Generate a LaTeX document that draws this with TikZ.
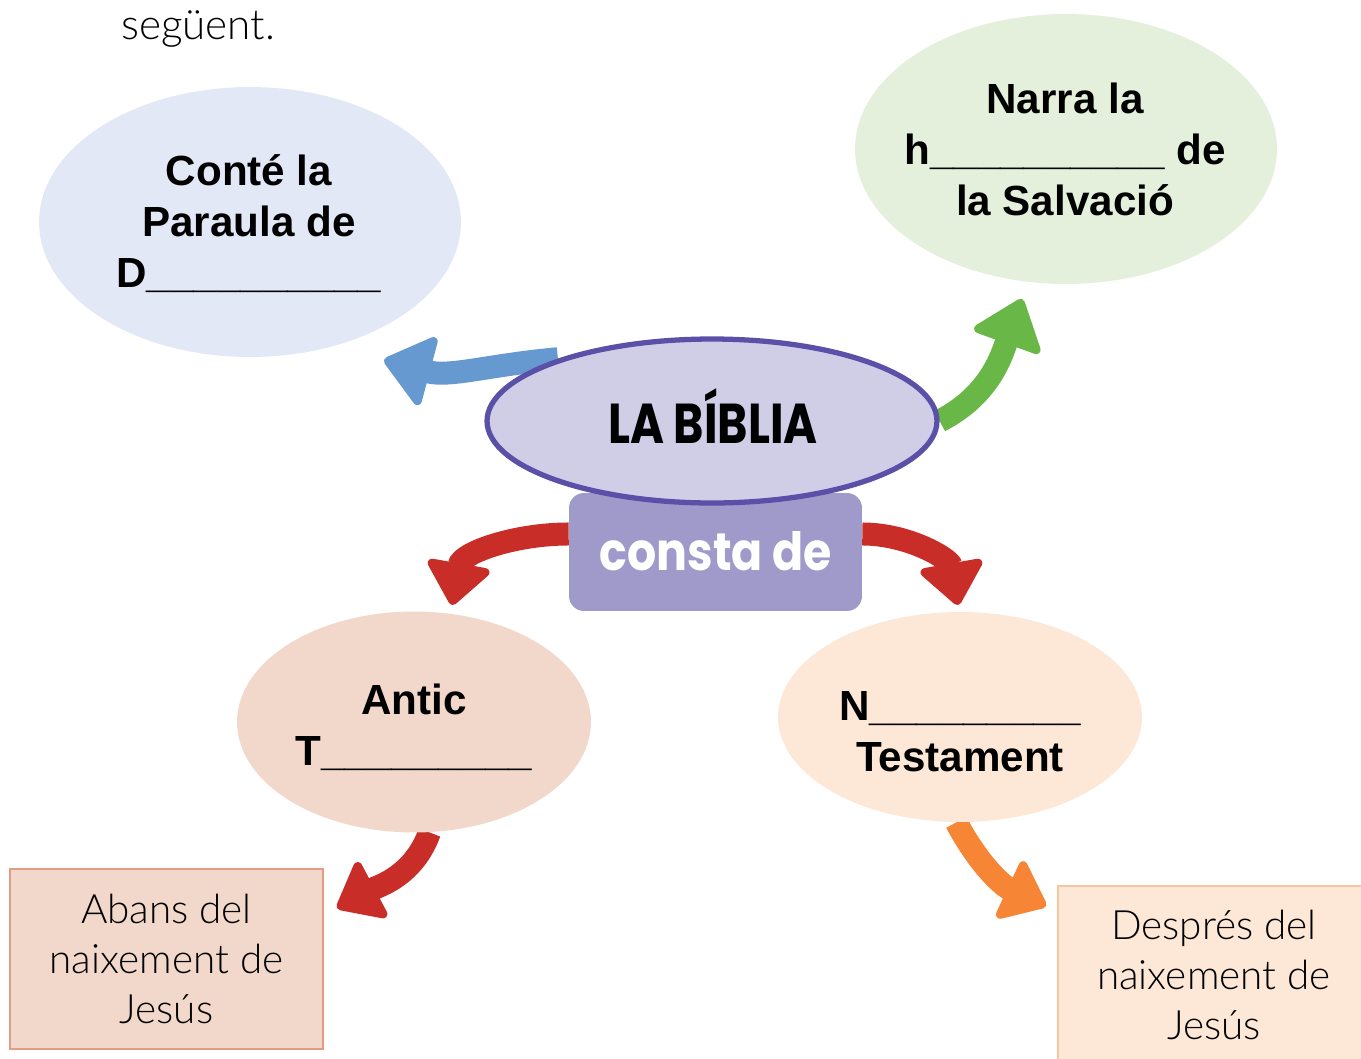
\documentclass[tikz,border=0pt]{standalone}
\usepackage{fontspec}
\usepackage{graphicx}
\setmainfont{Liberation Sans}
\newfontfamily\roundfont{Poppins}
\newfontfamily\lightfont{Lato Light}
\usetikzlibrary{shapes.geometric,arrows.meta,positioning}

\definecolor{conteFill}{HTML}{E3E8F6}
\definecolor{narraFill}{HTML}{E4F0DC}
\definecolor{bibliaFill}{HTML}{D0CEE7}
\definecolor{bibliaLine}{HTML}{5A50A8}
\definecolor{constaFill}{HTML}{A09ACB}
\definecolor{anticFill}{HTML}{F2D8CA}
\definecolor{anticLine}{HTML}{E39C84}
\definecolor{nouFill}{HTML}{FDE7D7}
\definecolor{nouLine}{HTML}{F7C59F}
\definecolor{redArrow}{HTML}{C82D28}
\definecolor{blueArrow}{HTML}{6699CF}
\definecolor{greenArrow}{HTML}{69B746}
\definecolor{orangeArrow}{HTML}{F68635}

\pgfdeclarelayer{arrowlayer}
\pgfsetlayers{arrowlayer,main}

\begin{document}
\begin{tikzpicture}[x=0.02cm, y=0.02cm,
    bubble/.style={ellipse, inner sep=0pt},
    bubbletext/.style={font=\bfseries\fontsize{24}{29}\selectfont, align=center},
    notebox/.style={rectangle, line width=1pt, minimum width=6.26cm, font=\lightfont\fontsize{23}{28.5}\selectfont, align=center},
    bigarrow/.style={line width=0.46cm, -{Triangle[length=1cm, width=1.55cm, round, line width=5pt]}},
    midarrow/.style={line width=0.46cm, -{Triangle[length=0.9cm, width=1.4cm, round, line width=5pt]}}]
  \useasboundingbox (0,0) rectangle (1361,-1058);

  \node[anchor=base west, font=\lightfont\fontsize{24}{28}\selectfont] (seguent) at (115,-39) {següent.};

  \node[bubble, fill=conteFill, minimum width=8.44cm, minimum height=5.4cm] (conte) at (250,-222) {};
  \node[bubbletext] (contetext) at (249,-224) {Conté la\\Paraula de\\D\_\_\_\_\_\_\_\_\_\_};

  \node[bubble, fill=narraFill, minimum width=8.44cm, minimum height=5.4cm] (narra) at (1066,-149) {};
  \node[bubbletext] (narratext) at (1065,-149) {Narra la\\h\_\_\_\_\_\_\_\_\_\_ de\\la Salvació};

  \node[rectangle, rounded corners=0.3cm, fill=constaFill, inner sep=0pt, minimum width=5.86cm, minimum height=2.36cm] (consta) at (715.5,-552) {};
  \node[bubble, fill=bibliaFill, draw=bibliaLine, line width=3pt, minimum width=9cm, minimum height=3.28cm] (biblia) at (712,-421) {};
  \node[anchor=base, font=\roundfont\bfseries\fontsize{32}{32}\selectfont] (bibliatext) at (713,-443) {\scalebox{0.82}[1]{LA BÍBLIA}};
  \node[anchor=base, text=white, font=\roundfont\bfseries\fontsize{30}{30}\selectfont] (constatext) at (716,-570) {\scalebox{0.87}[1]{consta de}};

  \node[bubble, fill=anticFill, minimum width=7.08cm, minimum height=4.42cm] (antic) at (414,-722) {};
  \node[bubbletext] (antictext) at (414,-727) {Antic\\T\_\_\_\_\_\_\_\_\_};

  \node[bubble, fill=nouFill, minimum width=7.28cm, minimum height=4.2cm] (nou) at (960,-717) {};
  \node[bubbletext] (noutext) at (960,-732) {N\_\_\_\_\_\_\_\_\_\\Testament};

  \node[notebox, fill=anticFill, draw=anticLine, minimum height=3.6cm] (abans) at (166.5,-959) {Abans del\\naixement de\\Jesús};
  \node[notebox, fill=nouFill, draw=nouLine, minimum width=6.24cm, minimum height=3.56cm, anchor=north west] (despres) at (1057,-885) {Després del\\naixement de\\Jesús};

  \coordinate (bluetip) at (384,-360);
  \coordinate (greentip) at (1022,-299);
  \coordinate (anticTip) at (452,-605);
  \coordinate (nouTip) at (958,-605);
  \coordinate (abansTip) at (337,-908);
  \coordinate (despresTip) at (1046,-906);

  \begin{pgfonlayer}{arrowlayer}
    \draw[bigarrow, blueArrow] (biblia.158) to[out=185, in=345] (bluetip);
    \draw[bigarrow, greenArrow] (biblia.0) to[out=27, in=250] (greentip);
    \draw[midarrow, redArrow] (consta.173) to[out=180, in=80] (anticTip);
    \draw[midarrow, redArrow] (consta.7) to[out=0, in=100] (nouTip);
    \draw[midarrow, redArrow] (antic.-82) to[out=250, in=28] (abansTip);
    \draw[midarrow, orangeArrow] (nou.-92) to[out=-62, in=155] (despresTip);
  \end{pgfonlayer}
\end{tikzpicture}
\end{document}
